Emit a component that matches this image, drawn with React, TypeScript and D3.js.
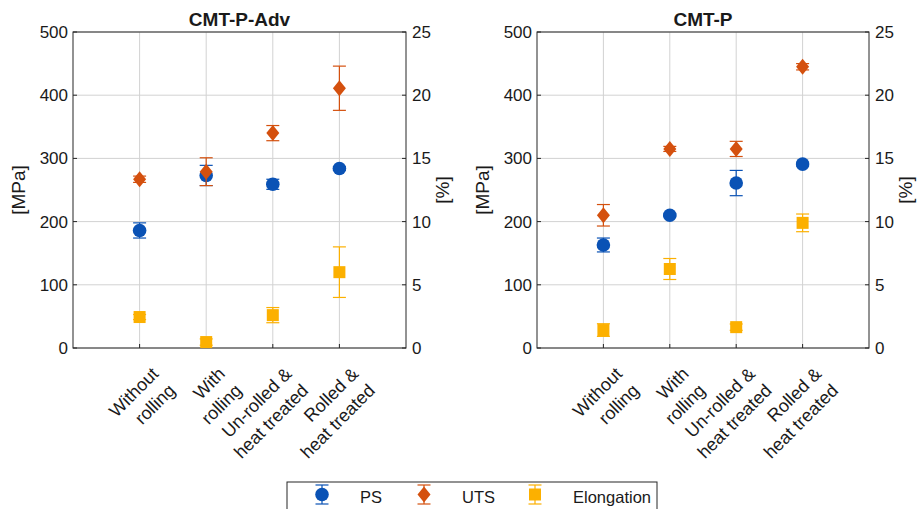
import React from 'react';
import * as d3 from 'd3';

const categories: string[][] = [
  ['Without', 'rolling'],
  ['With', 'rolling'],
  ['Un-rolled &', 'heat treated'],
  ['Rolled &', 'heat treated'],
];

const mpaTicks = [0, 100, 200, 300, 400, 500];
const pctTicks = [0, 5, 10, 15, 20, 25];

// CMT-P-Adv
const psAdv = [186, 273, 259, 284];
const psAdvErr = [12, 16, 8, 3];
const utsAdv = [267, 279, 340, 411];
const utsAdvErr = [5, 22, 12, 35];
const elAdv = [2.45, 0.47, 2.6, 6.0];
const elAdvErr = [0.2, 0.25, 0.6, 2.0];

// CMT-P
const psP = [163, 210, 261, 291];
const psPErr = [11, 2, 20, 3];
const utsP = [210, 315, 315, 445];
const utsPErr = [17, 4, 12, 5];
const elP = [1.42, 6.25, 1.65, 9.9];
const elPErr = [0.5, 0.83, 0.25, 0.7];

const BLUE = '#0a52b5';
const RED = '#d4500e';
const YELLOW = '#fcb000';
const FONT = '"Liberation Sans", Arial, sans-serif';

const TOP = 32;
const BOTTOM = 348;

interface PanelProps {
  x0: number;
  x1: number;
  title: string;
  ps: number[];
  psErr: number[];
  uts: number[];
  utsErr: number[];
  el: number[];
  elErr: number[];
}

const Marker = ({ kind, x, y, color }: { kind: string; x: number; y: number; color: string }) => {
  if (kind === 'circle') return <circle cx={x} cy={y} r={6.8} fill={color} />;
  if (kind === 'diamond')
    return <path d={`M${x},${y - 8}L${x + 6.5},${y}L${x},${y + 8}L${x - 6.5},${y}Z`} fill={color} />;
  return <rect x={x - 6} y={y - 6} width={12} height={12} fill={color} />;
};

const ErrorBar = ({ x, y1, y2, color }: { x: number; y1: number; y2: number; color: string }) => (
  <g stroke={color} strokeWidth={1.2} fill="none">
    <line x1={x} x2={x} y1={y1} y2={y2} />
    <line x1={x - 6.5} x2={x + 6.5} y1={y1} y2={y1} />
    <line x1={x - 6.5} x2={x + 6.5} y1={y2} y2={y2} />
  </g>
);

const Panel = ({ x0, x1, title, ps, psErr, uts, utsErr, el, elErr }: PanelProps) => {
  const xScale = d3.scaleLinear().domain([0, 5]).range([x0, x1]);
  const yL = d3.scaleLinear().domain([0, 500]).range([BOTTOM, TOP]);
  const yR = d3.scaleLinear().domain([0, 25]).range([BOTTOM, TOP]);

  const series = [
    { vals: ps, errs: psErr, scale: yL, color: BLUE, kind: 'circle' },
    { vals: uts, errs: utsErr, scale: yL, color: RED, kind: 'diamond' },
    { vals: el, errs: elErr, scale: yR, color: YELLOW, kind: 'square' },
  ];

  return (
    <g fontFamily={FONT}>
      {/* grid */}
      {mpaTicks.map((t) => (
        <line key={'gy' + t} x1={x0} x2={x1} y1={yL(t)} y2={yL(t)} stroke="#d2d2d2" />
      ))}
      {categories.map((c, i) => (
        <line key={'gx' + i} x1={xScale(i + 1)} x2={xScale(i + 1)} y1={TOP} y2={BOTTOM} stroke="#d2d2d2" />
      ))}

      {/* ticks */}
      {mpaTicks.map((t) => (
        <g key={'t' + t} stroke="#262626">
          <line x1={x0} x2={x0 + 4} y1={yL(t)} y2={yL(t)} />
          <line x1={x1} x2={x1 - 4} y1={yL(t)} y2={yL(t)} />
        </g>
      ))}
      {categories.map((c, i) => (
        <line key={'tx' + i} x1={xScale(i + 1)} x2={xScale(i + 1)} y1={BOTTOM} y2={BOTTOM - 4} stroke="#262626" />
      ))}

      {/* box */}
      <rect x={x0} y={TOP} width={x1 - x0} height={BOTTOM - TOP} fill="none" stroke="#262626" />

      {/* data */}
      {series.map((s) =>
        s.vals.map((v, i) => (
          <g key={s.kind + i}>
            <ErrorBar x={xScale(i + 1)} y1={s.scale(v + s.errs[i])} y2={s.scale(v - s.errs[i])} color={s.color} />
            <Marker kind={s.kind} x={xScale(i + 1)} y={s.scale(v)} color={s.color} />
          </g>
        ))
      )}

      {/* tick labels */}
      {mpaTicks.map((t) => (
        <text key={'l' + t} x={x0 - 5} y={yL(t)} dy="0.35em" textAnchor="end" fontSize={17} fill="#1a1a1a">
          {t}
        </text>
      ))}
      {pctTicks.map((t) => (
        <text key={'r' + t} x={x1 + 6} y={yR(t)} dy="0.35em" textAnchor="start" fontSize={17} fill="#1a1a1a">
          {t}
        </text>
      ))}
      {categories.map((lines, i) => (
        <g key={'c' + i} transform={`translate(${xScale(i + 1) + 20},${375}) rotate(-45)`}>
          {lines.map((ln, j) => (
            <text key={j} x={0} y={j * 23.5} textAnchor="end" fontSize={18} fill="#1a1a1a">
              {ln}
            </text>
          ))}
        </g>
      ))}

      {/* axis labels and title */}
      <text
        transform={`translate(${x0 - 48},${(TOP + BOTTOM) / 2}) rotate(-90)`}
        textAnchor="middle"
        fontSize={19}
        fill="#1a1a1a"
      >
        [MPa]
      </text>
      <text
        transform={`translate(${x1 + 43},${(TOP + BOTTOM) / 2}) rotate(-90)`}
        textAnchor="middle"
        fontSize={19}
        fill="#1a1a1a"
      >
        [%]
      </text>
      <text x={(x0 + x1) / 2} y={TOP - 6} textAnchor="middle" fontSize={19} fontWeight="bold" fill="#1a1a1a">
        {title}
      </text>
    </g>
  );
};

const legendItems = [
  { label: 'PS', color: BLUE, kind: 'circle' },
  { label: 'UTS', color: RED, kind: 'diamond' },
  { label: 'Elongation', color: YELLOW, kind: 'square' },
];

const App = () => {
  const legendX = d3.scaleOrdinal<string, number>().domain(legendItems.map((d) => d.label)).range([322, 424, 535]);
  return (
    <svg width={922} height={509} style={{ position: 'absolute', left: 0, top: 0, background: '#fff' }}>
      <rect width={922} height={509} fill="#fff" />
      <Panel x0={73} x1={406} title="CMT-P-Adv" ps={psAdv} psErr={psAdvErr} uts={utsAdv} utsErr={utsAdvErr} el={elAdv} elErr={elAdvErr} />
      <Panel x0={537} x1={869} title="CMT-P" ps={psP} psErr={psPErr} uts={utsP} utsErr={utsPErr} el={elP} elErr={elPErr} />

      {/* legend */}
      <g fontFamily={FONT}>
        <rect x={287} y={482} width={370} height={32} fill="#fff" stroke="#262626" />
        {legendItems.map((d) => {
          const lx = legendX(d.label);
          return (
            <g key={d.label}>
              <ErrorBar x={lx} y1={485} y2={504} color={d.color} />
              <Marker kind={d.kind} x={lx} y={494.5} color={d.color} />
              <text x={lx + 38} y={497} dy="0.35em" fontSize={16.5} fill="#1a1a1a">
                {d.label}
              </text>
            </g>
          );
        })}
      </g>
    </svg>
  );
};

export default App;
